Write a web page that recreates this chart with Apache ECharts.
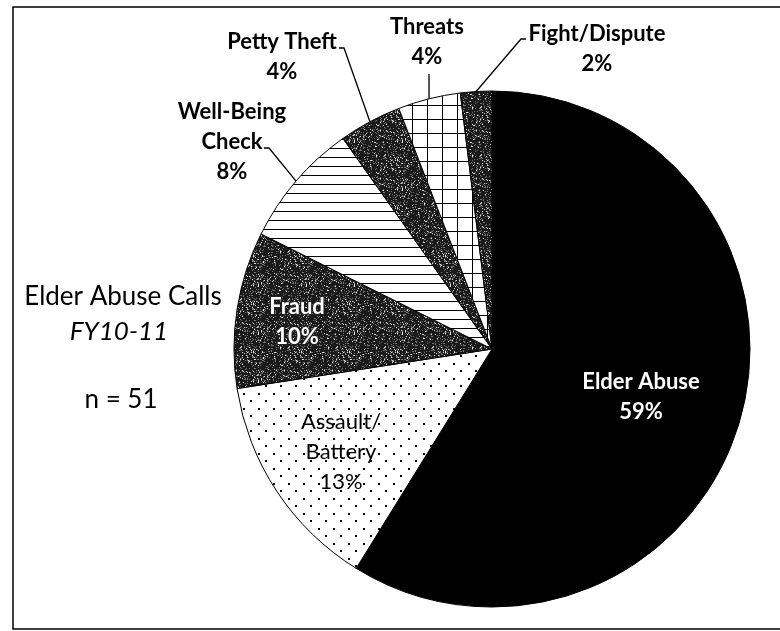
<!doctype html>
<html lang="en">
<head>
    <meta charset="utf-8">
    <title>Elder Abuse Calls FY10-11</title>
    <script src="https://cdn.jsdelivr.net/npm/echarts@6.0.0/dist/echarts.min.js"></script>
    <style>
        html, body { margin: 0; padding: 0; background: #fff; }
    </style>
</head>
<body>
    <div id="main" style="width:780px; height:631px;"></div>
    <script type="text/javascript">
        // data (n = 51 calls)
        var categories = ['Elder Abuse', 'Assault/\nBattery', 'Fraud', 'Well-Being\nCheck', 'Petty Theft', 'Threats', 'Fight/Dispute'];
        var callCounts = [30, 7, 5, 4, 2, 2, 1];
        var pctLabels = ['59%', '13%', '10%', '8%', '4%', '4%', '2%'];

        var FONT = 'Lato, "Open Sans", sans-serif';

        function makeCanvas(w, h, draw) {
            var c = document.createElement('canvas');
            c.width = w; c.height = h;
            draw(c.getContext('2d'), w, h);
            return c;
        }
        function hash(i) {
            var x = Math.sin(i * 12.9898 + 78.233) * 43758.5453;
            return x - Math.floor(x);
        }

        // fill patterns like the old b/w print
        var dots = makeCanvas(15, 15, function (g, w, h) {
            g.fillStyle = '#fff'; g.fillRect(0, 0, w, h);
            g.fillStyle = '#000';
            g.fillRect(3, 3, 2, 2);
            g.fillRect(10, 10, 2, 2);
        });
        var hlines = makeCanvas(10, 9, function (g, w, h) {
            g.fillStyle = '#fff'; g.fillRect(0, 0, w, h);
            g.fillStyle = '#000'; g.fillRect(0, 4, w, 1);
        });
        var grid = makeCanvas(15, 14, function (g, w, h) {
            g.fillStyle = '#fff'; g.fillRect(0, 0, w, h);
            g.fillStyle = '#000';
            g.fillRect(7, 0, 1, h);
            g.fillRect(0, 7, w, 1);
        });
        var noise = makeCanvas(48, 48, function (g, w, h) {
            g.fillStyle = '#1a1a1a'; g.fillRect(0, 0, w, h);
            for (var y = 0; y < h; y++) {
                for (var x = 0; x < w; x++) {
                    var r = hash(y * w + x);
                    if (r < 0.06) { g.fillStyle = '#e0e0e0'; g.fillRect(x, y, 1, 1); }
                    else if (r < 0.2) { g.fillStyle = '#777'; g.fillRect(x, y, 1, 1); }
                }
            }
        });
        function pat(c) { return { image: c, repeat: 'repeat' }; }

        var fills = ['#000', pat(dots), pat(noise), pat(hlines), pat(noise), pat(grid), pat(noise)];

        // where each label sits in the picture
        var labelSpots = [
            { x: 641, y: 397 },
            { x: 341, y: 452 },
            { x: 297, y: 322 },
            { x: 232, y: 142, line: [[269, 148], [264, 148]] },
            { x: 282, y: 57, line: [[344, 48], [339, 48]] },
            { x: 427, y: 42, line: [[429, 74]] },
            { x: 597, y: 49, line: [[521, 39], [526, 39]] }
        ];

        var insideStyles = [
            { color: '#fff', fontWeight: 'bold', fontSize: 22, lineHeight: 30 },
            { color: '#000', fontWeight: 'normal', fontSize: 22, lineHeight: 30 },
            { color: '#fff', fontWeight: 'bold', fontSize: 22, lineHeight: 30, textBorderColor: '#222', textBorderWidth: 2 }
        ];

        var seriesData = categories.map(function (name, i) {
            var item = {
                name: name,
                value: callCounts[i],
                itemStyle: { color: fills[i] }
            };
            if (i < 3) {
                item.label = Object.assign({ position: 'inside' }, insideStyles[i]);
                item.labelLine = { show: false };
            }
            return item;
        });

        var chart = echarts.init(document.getElementById('main'));
        var option = {
            backgroundColor: '#fff',
            animation: false,
            graphic: [
                {
                    type: 'rect',
                    shape: { x: 13, y: 7, width: 800, height: 622 },
                    style: { fill: 'none', stroke: '#000', lineWidth: 1.5 }
                },
                {
                    type: 'text', x: 123, y: 297,
                    style: { text: 'Elder Abuse Calls', font: '26px ' + FONT, fill: '#000', align: 'center', verticalAlign: 'middle' }
                },
                {
                    type: 'text', x: 119, y: 332,
                    style: { text: 'FY10-11', font: 'italic 26px ' + FONT, fill: '#000', align: 'center', verticalAlign: 'middle' }
                },
                {
                    type: 'text', x: 121, y: 400,
                    style: { text: 'n = 51', font: '26px ' + FONT, fill: '#000', align: 'center', verticalAlign: 'middle' }
                }
            ],
            series: [{
                type: 'pie',
                center: [492, 349],
                radius: 258,
                startAngle: 90,
                clockwise: true,
                avoidLabelOverlap: false,
                itemStyle: { borderColor: '#000', borderWidth: 1 },
                emphasis: { disabled: true },
                label: {
                    position: 'outside',
                    fontFamily: FONT,
                    fontSize: 22,
                    fontWeight: 'bold',
                    lineHeight: 30,
                    color: '#000',
                    align: 'center',
                    formatter: function (p) {
                        return p.name + '\n' + pctLabels[p.dataIndex];
                    }
                },
                labelLine: {
                    show: true,
                    length: 40,
                    length2: 5,
                    lineStyle: { color: '#000', width: 1.3 }
                },
                labelLayout: function (params) {
                    var s = labelSpots[params.dataIndex];
                    var out = { x: s.x, y: s.y, align: 'center', verticalAlign: 'middle' };
                    if (s.line && params.labelLinePoints) {
                        out.labelLinePoints = [params.labelLinePoints[0]].concat(s.line);
                    }
                    return out;
                },
                data: seriesData
            }]
        };
        chart.setOption(option);
    </script>
</body>
</html>
